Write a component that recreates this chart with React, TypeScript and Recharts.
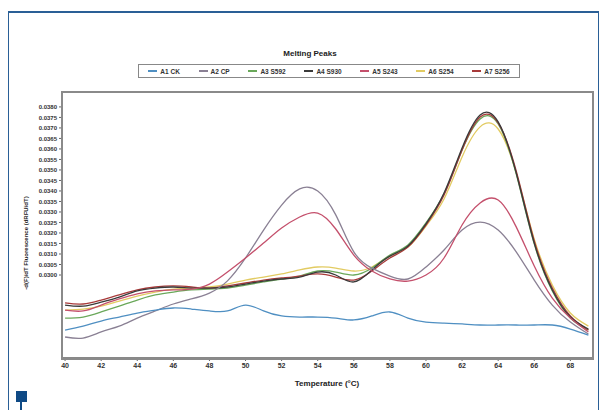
import { LineChart, Line, XAxis, YAxis } from 'recharts';

const temps = [40, 41, 42, 43, 44, 45, 46, 47, 48, 49, 50, 51, 52, 53, 54, 55, 56, 57, 58, 59, 60, 61, 62, 63, 64, 65, 66, 67, 68, 69];

const a1Ck = [0.02738, 0.02757, 0.02781, 0.028, 0.02819, 0.02833, 0.02843, 0.02838, 0.02829, 0.02829, 0.02857, 0.02829, 0.02805, 0.028, 0.028, 0.02795, 0.02786, 0.02805, 0.02824, 0.02795, 0.02776, 0.02771, 0.02767, 0.02762, 0.02762, 0.02762, 0.02762, 0.02762, 0.02743, 0.02714];
const a2Cp = [0.02705, 0.027, 0.02729, 0.02757, 0.02795, 0.02829, 0.02862, 0.02886, 0.02914, 0.02972, 0.03081, 0.03214, 0.03333, 0.0341, 0.034, 0.03286, 0.0311, 0.03033, 0.02995, 0.02981, 0.03038, 0.03119, 0.03214, 0.03252, 0.03214, 0.0311, 0.02976, 0.02857, 0.02776, 0.02719];
const a3S592 = [0.02795, 0.028, 0.02824, 0.02852, 0.02881, 0.02905, 0.02919, 0.02929, 0.02933, 0.02938, 0.02952, 0.02967, 0.02981, 0.02995, 0.03019, 0.03014, 0.03, 0.03033, 0.03095, 0.03143, 0.03248, 0.03386, 0.03595, 0.03743, 0.03719, 0.03481, 0.03148, 0.02924, 0.02795, 0.02738];
const a4S930 = [0.02857, 0.02852, 0.02871, 0.02895, 0.02924, 0.02938, 0.02943, 0.02938, 0.02938, 0.02943, 0.02957, 0.02971, 0.02981, 0.0299, 0.03014, 0.03, 0.02967, 0.03024, 0.0309, 0.03138, 0.03243, 0.0339, 0.03605, 0.03762, 0.03729, 0.03486, 0.03152, 0.02929, 0.028, 0.02743];
const a5S243 = [0.02833, 0.02829, 0.02857, 0.02886, 0.0291, 0.02924, 0.02929, 0.02933, 0.02957, 0.03014, 0.03081, 0.03152, 0.03224, 0.03276, 0.03295, 0.03219, 0.03095, 0.03019, 0.02981, 0.02971, 0.03, 0.03081, 0.03238, 0.03343, 0.03357, 0.03229, 0.03043, 0.0289, 0.02795, 0.02729];
const a6S254 = [0.02833, 0.02838, 0.02852, 0.02876, 0.029, 0.02919, 0.02933, 0.02938, 0.02943, 0.02957, 0.02976, 0.0299, 0.03005, 0.03024, 0.03038, 0.03033, 0.03019, 0.03038, 0.0309, 0.03133, 0.03233, 0.03362, 0.03562, 0.03705, 0.03695, 0.03486, 0.03171, 0.02952, 0.02819, 0.02757];
const a7S256 = [0.02867, 0.02862, 0.02881, 0.02905, 0.02929, 0.02943, 0.02948, 0.02943, 0.02938, 0.02948, 0.02962, 0.02976, 0.02986, 0.02995, 0.03005, 0.0299, 0.02976, 0.03019, 0.03081, 0.03133, 0.03238, 0.03381, 0.03595, 0.03752, 0.03724, 0.03495, 0.03162, 0.02938, 0.02805, 0.02738];

const seriesNames = ['A1 CK', 'A2 CP', 'A3 S592', 'A4 S930', 'A5 S243', 'A6 S254', 'A7 S256'];
const seriesValues = [a1Ck, a2Cp, a3S592, a4S930, a5S243, a6S254, a7S256];
const seriesColors = ['#4f8fc2', '#8a8094', '#6aa85a', '#3a3a3a', '#c4506c', '#e2cb62', '#a83a3a'];

const xTicks = [40, 42, 44, 46, 48, 50, 52, 54, 56, 58, 60, 62, 64, 66, 68];
const yTicks = [0.03, 0.0305, 0.031, 0.0315, 0.032, 0.0325, 0.033, 0.0335, 0.034, 0.0345, 0.035, 0.0355, 0.036, 0.0365, 0.037, 0.0375, 0.038];

const rows = temps.map((t, i) => {
  const row: Record<string, number> = { temp: t };
  seriesNames.forEach((name, s) => {
    row[name] = seriesValues[s][i];
  });
  return row;
});

// draw the big-peak bundle first, the odd ones on top
const drawOrder = [5, 2, 6, 3, 1, 4, 0];

const tickStyle = { fontSize: 7, fontWeight: 700, fill: '#333', fontFamily: 'Arial, Liberation Sans, sans-serif' };

export default function App() {
  return (
    <div style={{ position: 'absolute', left: 0, top: 0, width: 605, height: 410, background: '#fff', fontFamily: 'Arial, Liberation Sans, sans-serif', overflow: 'hidden' }}>
      {/* blue page frame */}
      <div style={{ position: 'absolute', left: 8, top: 11, width: 589, height: 400, borderTop: '2px solid #2a5f96', borderLeft: '1.5px solid #2a5f96', borderRight: '1.5px solid #2a5f96' }} />
      <div style={{ position: 'absolute', left: 16, top: 391, width: 11, height: 11, background: '#0f4a85' }} />
      <div style={{ position: 'absolute', left: 20, top: 402, width: 2, height: 8, background: '#0f4a85' }} />

      <div style={{ position: 'absolute', left: 0, width: 620, top: 49, textAlign: 'center', fontSize: 8, fontWeight: 700, color: '#222' }}>
        Melting Peaks
      </div>

      <div style={{ position: 'absolute', left: 138, top: 64, width: 380, height: 12, border: '1px solid #888', display: 'flex', justifyContent: 'space-around', alignItems: 'center', fontSize: 6.5, fontWeight: 700, color: '#333' }}>
        {seriesNames.map((name, i) => (
          <span key={name} style={{ display: 'flex', alignItems: 'center', whiteSpace: 'nowrap' }}>
            <span style={{ display: 'inline-block', width: 9, height: 1.5, background: seriesColors[i], marginRight: 3 }} />
            {name}
          </span>
        ))}
      </div>

      <LineChart width={605} height={410} data={rows} margin={{ top: 92, right: 13, bottom: 22, left: 0 }} style={{ position: 'absolute', left: 0, top: 0 }}>
        <XAxis
          dataKey="temp"
          type="number"
          domain={[39.83, 69.2]}
          ticks={xTicks}
          allowDataOverflow
          tick={tickStyle}
          tickLine={{ stroke: '#666' }}
          tickSize={3}
          axisLine={{ stroke: '#888', strokeWidth: 2 }}
          label={{ value: 'Temperature (°C)', position: 'insideBottom', offset: 2, style: { fontSize: 8, fontWeight: 700, fill: '#222' } }}
          height={30}
        />
        <YAxis
          type="number"
          domain={[0.02605, 0.03871]}
          ticks={yTicks}
          allowDataOverflow
          width={62}
          tick={{ ...tickStyle, fontSize: 6 }}
          tickFormatter={(v: number) => v.toFixed(4)}
          tickLine={{ stroke: '#666' }}
          tickSize={3}
          interval={0}
          axisLine={{ stroke: '#888', strokeWidth: 2 }}
          label={{ value: '-d(F)/dT Fluorescence (dRFU/dT)', angle: -90, position: 'insideLeft', offset: 26, dy: 18, style: { fontSize: 6, fontWeight: 700, fill: '#222', textAnchor: 'middle' } }}
        />
        {drawOrder.map((s) => (
          <Line
            key={seriesNames[s]}
            type="natural"
            dataKey={seriesNames[s]}
            stroke={seriesColors[s]}
            strokeWidth={1.3}
            dot={false}
            isAnimationActive={false}
          />
        ))}
      </LineChart>

      {/* plot frame */}
      <div style={{ position: 'absolute', left: 61, top: 91, width: 529, height: 265, border: '2px solid #8a8a8a', pointerEvents: 'none' }} />
    </div>
  );
}
